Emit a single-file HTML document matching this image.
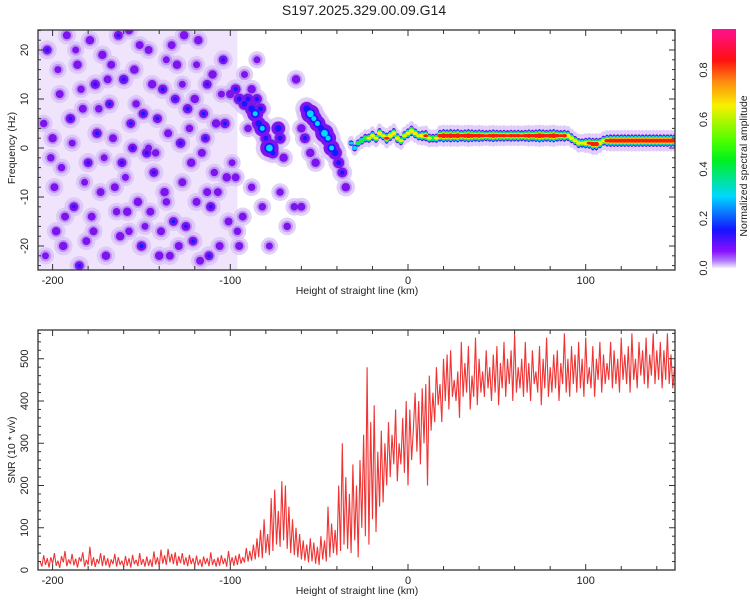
<!DOCTYPE html>
<html><head><meta charset="utf-8"><style>
html,body{margin:0;padding:0;background:#fff;}
svg text{font-family:"Liberation Sans",sans-serif;fill:#222;}
</style></head><body>
<svg id="chart" width="750" height="600" viewBox="0 0 750 600">
<defs>
<linearGradient id="cbar" x1="0" y1="1" x2="0" y2="0">
<stop offset="0" stop-color="#f4ecff"/><stop offset="0.03" stop-color="#b07cf8"/>
<stop offset="0.07" stop-color="#8a10ff"/><stop offset="0.16" stop-color="#1414ff"/>
<stop offset="0.3" stop-color="#00d8ff"/><stop offset="0.45" stop-color="#00f020"/>
<stop offset="0.52" stop-color="#40ff00"/><stop offset="0.68" stop-color="#f8f000"/>
<stop offset="0.78" stop-color="#ff8a10"/><stop offset="0.87" stop-color="#ff1010"/>
<stop offset="1" stop-color="#ff1090"/>
</linearGradient>
<clipPath id="clipTop"><rect x="38" y="30" width="637" height="240"/></clipPath>
<clipPath id="clipBot"><rect x="38" y="330" width="637" height="240"/></clipPath>
</defs>
<text x="364" y="15" font-size="14" text-anchor="middle">S197.2025.329.00.09.G14</text>
<g id="topPanel"></g>
<g id="botPanel"></g>
<g id="cbPanel"></g>
</svg>
<script>
// ---------- data ----------
const ridgeKm = [-32,-30,-28,-26,-24,-22,-20,-18,-16,-14,-12,-10,-8,-6,-4,-2,0,2,4,6,8,10,12,14,16,18,20,22,24,26,28,30,32,34,36,38,40,42,44,46,48,50,52,54,56,58,60,62,64,66,68,70,72,74,76,78,80,82,84,86,88,90,92,94,96,98,100,102,104,106,108,110,112,114,116,118,120,122,124,126,128,130,132,134,136,138,140,142,144,146,148,150];
const ridgeHz = [1,0,1,1.5,2,2,2.5,2,3,2.5,2,2.5,3,2,1.5,2.5,3,3.5,3,2.5,2.5,2.5,2,2,2,2.5,2.5,2.5,2.5,2.5,2.5,2.5,2.5,2.5,2.5,2.5,2.5,2.5,2.5,2.5,2.5,2.5,2.5,2.5,2.5,2.5,2.5,2.5,2.5,2.5,2.5,2.5,2.5,2.5,2.5,2.5,2.5,2.5,2.5,2.5,2.5,2.5,2,1.5,1,1,1,1,0.8,0.8,1,1.5,1.5,1.5,1.5,1.5,1.5,1.5,1.5,1.5,1.5,1.5,1.5,1.5,1.5,1.5,1.5,1.5,1.5,1.5,1.5,1.5];
const ridgeAmp = [0.3,0.4,0.45,0.5,0.55,0.6,0.65,0.6,0.7,0.6,0.75,0.7,0.7,0.65,0.6,0.6,0.65,0.7,0.65,0.6,0.7,0.75,0.6,0.55,0.6,0.8,0.9,0.85,0.9,0.85,0.9,0.8,0.85,0.9,0.85,0.8,0.85,0.8,0.75,0.8,0.85,0.8,0.78,0.8,0.75,0.8,0.78,0.8,0.75,0.8,0.85,0.8,0.85,0.9,0.85,0.8,0.85,0.9,0.8,0.75,0.8,0.7,0.65,0.6,0.65,0.6,0.7,0.75,0.85,0.85,0.7,0.65,0.8,0.85,0.85,0.85,0.85,0.85,0.85,0.85,0.85,0.85,0.85,0.85,0.85,0.85,0.85,0.85,0.85,0.85,0.85,0.85];
const blobKm = [-100,-97,-95,-92,-90,-88,-86,-84,-82,-80,-78,-76,-88,-85,-83,-73,-72,-70,-63,-57,-55,-53,-51,-49,-47,-45,-43,-41,-39,-37,-35,-60,-58,-55,-52,-60,
-203,-196,-190,-186,-180,-178,-175,-172,-168,-165,-162,-160,-157,-155,-152,-149,-146,-143,-140,-138,-135,-132,-130,-127,-124,-121,-118,-116,-113,-111,-108,-106,-104,-102,-199,-194,-188,-183,-176,-170,-166,-161,-154,-150,-145,-141,-137,-133,-128,-125,-120,-117,-114,-110,-107,-103,-200,-192,-185,-179,-173,-163,-158,-147,-139,-131,-122,-119,-112,-198,-181,-156,-144,-134,-126,-115,-97,-93,-90,-95,-68,-72,-64,
-205,-201,-197,-193,-189,-184,-182,-177,-174,-171,-167,-164,-159,-153,-151,-148,-142,-136,-129,-123,-119,-109,-105,-101,-204,-195,-187,-169,-157,-146,-136,-127,-113,-99,-96,-92,-88,-85,-82,-78];
const blobHz = [11,12,10,9,10,8,7,5,4,2,0,-1,12,10,8,4,2,-2,14,8,7,6,5,4,3,2,0,-1,-3,-5,-8,4,2,-1,-3,-12,
20,11,6,17,-3,-14,3,19,9,-8,-18,14,24,0,-11,7,20,-5,-22,12,3,-15,17,-7,8,-19,22,-1,13,-12,5,-20,18,-6,-8,-20,-12,8,13,-22,2,-3,16,-20,-13,6,-9,21,1,-16,10,-23,2,15,-9,5,2,23,-24,22,-9,23,-13,-1,-17,10,-3,-11,-22,-17,-19,5,13,-22,23,7,-6,-14,4,-20,-16,-9,-12,
5,-2,16,-14,1,12,-7,-17,8,-2,17,-13,-6,9,21,-16,-1,18,-20,4,17,-5,11,-15,-22,-4,20,14,-17,0,-11,13,-9,-3,-17,15,-8,18,-12,-20];
const blobAmp = [0.15,0.18,0.2,0.22,0.2,0.25,0.3,0.25,0.3,0.2,0.35,0.2,0.15,0.18,0.2,0.25,0.2,0.15,0.15,0.25,0.35,0.3,0.3,0.25,0.35,0.3,0.3,0.25,0.2,0.18,0.15,0.15,0.18,0.15,0.15,0.14,
0.16,0.14,0.17,0.15,0.16,0.14,0.17,0.15,0.16,0.14,0.15,0.17,0.14,0.16,0.15,0.17,0.14,0.16,0.15,0.17,0.14,0.16,0.15,0.14,0.17,0.16,0.15,0.14,0.16,0.17,0.15,0.14,0.16,0.15,0.14,0.15,0.16,0.14,0.17,0.15,0.14,0.16,0.15,0.17,0.14,0.16,0.15,0.14,0.17,0.16,0.15,0.14,0.16,0.15,0.14,0.17,0.15,0.14,0.16,0.15,0.14,0.16,0.15,0.17,0.14,0.16,0.15,0.14,0.16,0.15,0.14,0.16,0.15,0.14,0.15,0.16,0.14,0.14,0.13,0.14,0.13,0.13,0.13,0.13,
0.13,0.12,0.14,0.12,0.13,0.12,0.14,0.13,0.12,0.14,0.13,0.12,0.13,0.14,0.12,0.13,0.12,0.14,0.13,0.12,0.13,0.12,0.14,0.12,0.13,0.12,0.14,0.13,0.12,0.13,0.12,0.14,0.12,0.13,0.12,0.13,0.12,0.13,0.12,0.12];
const snrStartKm = -207;
const snrValues = [20,8,35,12,28,6,30,15,40,10,
22,5,33,18,45,9,25,14,38,11,
27,6,30,20,42,8,24,12,55,10,
30,7,26,15,40,9,35,11,28,6,
25,14,38,8,30,12,22,7,33,10,
28,6,36,14,24,9,40,12,26,8,
32,10,25,7,44,13,30,8,48,15,
35,12,50,18,38,14,42,10,33,16,
40,12,30,9,36,14,28,8,34,11,
25,7,32,14,28,9,42,12,26,8,
30,10,35,14,28,8,45,12,30,10,
34,12,38,15,30,18,52,20,45,22,
60,25,75,30,95,28,120,40,85,35,
170,45,190,60,140,55,210,70,200,50,
150,40,120,35,100,30,85,25,70,22,
60,18,75,20,65,15,55,12,80,25,
70,20,150,30,110,40,95,35,200,45,
300,60,220,50,180,40,250,70,200,30,
260,100,320,80,480,60,350,120,390,90,
280,150,330,160,300,200,350,220,320,250,
380,210,300,250,360,230,400,200,380,260,
330,420,280,400,250,430,300,440,200,460,
330,420,350,480,390,440,350,500,400,510,
380,520,410,450,400,470,360,540,410,490,
420,530,380,460,410,550,390,500,420,470,
410,520,430,480,400,510,420,530,390,490,
430,540,410,500,440,520,400,560,420,480,
430,500,410,540,420,490,400,520,440,470,
420,530,390,500,430,550,410,480,420,510,
430,520,400,490,440,560,420,500,410,530,
440,510,420,540,430,500,410,550,440,480,
430,530,410,500,450,540,420,510,440,490,
450,540,430,520,440,500,420,550,450,510,
440,530,420,560,450,500,430,540,460,520,
440,550,430,510,460,560,440,520,450,540,
430,520,450,560,440,510,430,480];
const xTickLabels = [-200,-100,0,100];
const hzTickLabels = [20,10,0,-10,-20];
const snrTickLabels = [0,100,200,300,400,500];
const cbTickLabels = [0.0,0.2,0.4,0.6,0.8];

// ---------- scales ----------
const NS='http://www.w3.org/2000/svg';
const X0=38,X1=675;
const xs = km => 408 + km*1.777;
const yTop = hz => 148 - hz*4.9;
const yBot = v => 570 - v*0.4225;
const cbY = v => 268 - v*247.5;
function mk(tag, attrs, parent){const e=document.createElementNS(NS,tag);for(const k in attrs)e.setAttribute(k,attrs[k]);parent.appendChild(e);return e;}

const levels=[0.1,0.2,0.3,0.45,0.6,0.75];
const lcols=['#7d14ee','#1818ff','#00d8ff','#20f020','#f5f000','#ff1a10'];
const nBlob=Math.min(blobKm.length,blobHz.length,blobAmp.length);

// ---------- top panel ----------
const topG=document.getElementById('topPanel');
const tg=mk('g',{'clip-path':'url(#clipTop)'},topG);


const bgRect=mk('rect',{x:X0,y:30,width:xs(-96)-X0,height:240,fill:'#efe4fc'},tg);


for(let i=0;i<nBlob;i++){
  const c=mk('circle',{cx:xs(blobKm[i]),cy:yTop(blobHz[i]),r:6+blobAmp[i]*22,fill:'#d8c0f7','fill-opacity':0.75},tg);
  
  
}
for(let i=0;i<nBlob;i++){
  const c=mk('circle',{cx:xs(blobKm[i]),cy:yTop(blobHz[i]),r:4+blobAmp[i]*14,fill:'#b88af2','fill-opacity':0.8},tg);
  
  
}
for(let i=0;i<ridgeKm.length;i++){
  const c=mk('ellipse',{cx:xs(ridgeKm[i]),cy:yTop(ridgeHz[i]),rx:4,ry:5+ridgeAmp[i]*7,fill:'#e0cdfa'},tg);
  
  
}
for(let L=0;L<levels.length;L++){
  for(let i=0;i<nBlob;i++){
    if(blobAmp[i]<levels[L]-0.04) continue;
    const rr = L===0 ? 3+(blobAmp[i]-levels[L])*25 : 2.5+(blobAmp[i]-levels[L])*18;
    const c=mk('circle',{cx:xs(blobKm[i]),cy:yTop(blobHz[i]),r:Math.max(1.5,rr),fill:lcols[L]},tg);
    
    
  }
  for(let i=0;i<ridgeKm.length;i++){
    if(ridgeAmp[i]<levels[L]) continue;
    const c=mk('ellipse',{cx:xs(ridgeKm[i]),cy:yTop(ridgeHz[i]),rx:2.6,ry:1.5+(ridgeAmp[i]-levels[L])*6.5,fill:lcols[L]},tg);
    
    
  }
}
function frame(parent,y0,y1,name){
  const r=mk('rect',{x:X0,y:y0,width:X1-X0,height:y1-y0,fill:'none',stroke:'#333','stroke-width':1.3},parent);
  
  
  for(let km=-200;km<=140;km+=20){
    const big=(km%100===0)?6:4;
    mk('line',{x1:xs(km),x2:xs(km),y1:y1,y2:y1-big,stroke:'#333'},parent);
    mk('line',{x1:xs(km),x2:xs(km),y1:y0,y2:y0+big,stroke:'#333'},parent);
  }
  xTickLabels.forEach(v=>{
    const t=mk('text',{x:xs(v),y:y1+14,'font-size':11,'text-anchor':'middle'},parent);
    t.textContent=v;
    
    
  });
  const xt=mk('text',{x:357,y:y1+24,'font-size':10.5,'text-anchor':'middle'},parent);
  xt.textContent='Height of straight line (km)';
  
  
}
frame(topG,30,270,'spectrogram-frame');
for(let hz=-24;hz<=24;hz+=2){
  const big=(hz%10===0)?6:3;
  mk('line',{x1:X0,x2:X0+big,y1:yTop(hz),y2:yTop(hz),stroke:'#333'},topG);
  mk('line',{x1:X1,x2:X1-big,y1:yTop(hz),y2:yTop(hz),stroke:'#333'},topG);
}
hzTickLabels.forEach(v=>{
  const t=mk('text',{x:0,y:0,'font-size':11,'text-anchor':'middle',transform:`translate(28,${yTop(v)}) rotate(-90)`},topG);
  t.textContent=v;
  
  
});
const yt=mk('text',{x:0,y:0,'font-size':10.5,'text-anchor':'middle',transform:'translate(15,148) rotate(-90)'},topG);
yt.textContent='Frequency (Hz)';



// ---------- bottom panel ----------
const botG=document.getElementById('botPanel');
const bg2=mk('g',{'clip-path':'url(#clipBot)'},botG);
let d='';
snrValues.forEach((v,i)=>{d+=(i?'L':'M')+xs(snrStartKm+i).toFixed(1)+' '+yBot(v).toFixed(1);});
const snrLine=mk('path',{d:d,fill:'none',stroke:'#f03434','stroke-width':1.1,'stroke-linejoin':'bevel'},bg2);


frame(botG,330,570,'snr-frame');
for(let v=0;v<=560;v+=20){
  const big=(v%100===0)?6:3;
  mk('line',{x1:X0,x2:X0+big,y1:yBot(v),y2:yBot(v),stroke:'#333'},botG);
  mk('line',{x1:X1,x2:X1-big,y1:yBot(v),y2:yBot(v),stroke:'#333'},botG);
}
snrTickLabels.forEach(v=>{
  const t=mk('text',{x:0,y:0,'font-size':11,'text-anchor':'middle',transform:`translate(28,${yBot(v)}) rotate(-90)`},botG);
  t.textContent=v;
  
  
});
const yt2=mk('text',{x:0,y:0,'font-size':10.5,'text-anchor':'middle',transform:'translate(15,450) rotate(-90)'},botG);
yt2.textContent='SNR (10 * v/v)';



// ---------- colorbar ----------
const cbG=document.getElementById('cbPanel');
const cbr=mk('rect',{x:712,y:29,width:24,height:239,fill:'url(#cbar)'},cbG);


cbTickLabels.forEach(v=>{
  const t=mk('text',{x:0,y:0,'font-size':11,'text-anchor':'middle',transform:`translate(707,${cbY(v)}) rotate(-90)`},cbG);
  t.textContent=v.toFixed(1);
  
  
});
const ct=mk('text',{x:0,y:0,'font-size':10.5,'text-anchor':'middle',transform:'translate(747,166) rotate(-90)'},cbG);
ct.textContent='Normalized spectral amplitude';


</script>
</body></html>
